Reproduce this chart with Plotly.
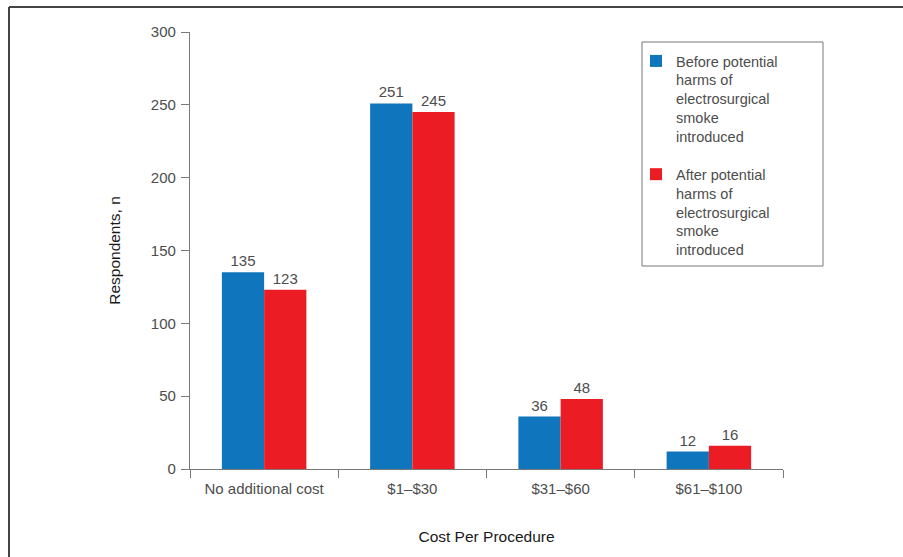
import plotly.graph_objects as go

categories = ["No additional cost", "$1\u2013$30", "$31\u2013$60", "$61\u2013$100"]
before_values = [135, 251, 36, 12]
after_values = [123, 245, 48, 16]
before_name = "Before potential<br>harms of<br>electrosurgical<br>smoke<br>introduced"
after_name = "After potential<br>harms of<br>electrosurgical<br>smoke<br>introduced"

W, H = 903, 557
ML, MR, MT, MB = 190, 120, 32, 88
PW, PH = W - ML - MR, H - MT - MB

FONT = "Liberation Sans, Arial, sans-serif"
GRAY_TXT = "#4d4d4d"
AXIS_COL = "#7a7a7a"

fig = go.Figure()
fig.add_trace(go.Bar(
    x=categories, y=before_values, name=before_name, legendgroup="before",
    marker=dict(color="#0F75BC", line=dict(width=0)),
    text=[str(v) for v in before_values], textposition="outside",
    textfont=dict(size=15, color=GRAY_TXT, family=FONT), cliponaxis=False,
))
fig.add_trace(go.Bar(
    x=categories, y=after_values, name=after_name, legendgroup="after",
    marker=dict(color="#EC1C24", line=dict(width=0)),
    text=[str(v) for v in after_values], textposition="outside",
    textfont=dict(size=15, color=GRAY_TXT, family=FONT), cliponaxis=False,
))


def px_x(p):
    return (p - ML) / PW


def px_y(p):
    return 1 - (p - MT) / PH


# outer frame (left and top edges visible) and the legend box
frame = dict(color="#444444", width=2)
shapes = [
    dict(type="line", xref="paper", yref="paper", x0=px_x(9), x1=px_x(W + 5),
         y0=px_y(7), y1=px_y(7), line=frame),
    dict(type="line", xref="paper", yref="paper", x0=px_x(9), x1=px_x(9),
         y0=px_y(7), y1=px_y(H + 5), line=frame),
    dict(type="rect", xref="paper", yref="paper", x0=px_x(642), x1=px_x(823),
         y0=px_y(266), y1=px_y(42), line=dict(color="#777777", width=1)),
]

fig.update_layout(
    width=W, height=H,
    margin=dict(l=ML, r=MR, t=MT, b=MB, autoexpand=False),
    paper_bgcolor="white", plot_bgcolor="white",
    barmode="group", bargap=0.43, bargroupgap=0,
    font=dict(family=FONT, color=GRAY_TXT, size=15),
    shapes=shapes,
    xaxis=dict(
        type="category", tickson="boundaries", ticks="outside", ticklen=8,
        tickcolor=AXIS_COL, showline=True, linecolor=AXIS_COL, linewidth=1.3,
        showgrid=False, zeroline=False, ticklabelstandoff=6,
        tickfont=dict(size=15, color=GRAY_TXT, family=FONT),
        title=dict(text="Cost Per Procedure", standoff=34,
                   font=dict(size=15.5, color="#1a1a1a", family=FONT)),
    ),
    yaxis=dict(
        range=[0, 300], tickvals=[0, 50, 100, 150, 200, 250, 300],
        ticks="outside", ticklen=8, tickcolor=AXIS_COL,
        showline=True, linecolor=AXIS_COL, linewidth=1.3,
        showgrid=False, zeroline=False, ticklabelstandoff=2,
        tickfont=dict(size=15, color=GRAY_TXT, family=FONT),
        title=dict(text="Respondents, n", standoff=26,
                   font=dict(size=15.5, color="#1a1a1a", family=FONT)),
    ),
    legend=dict(
        x=px_x(636), y=px_y(45), xanchor="left", yanchor="top",
        borderwidth=0, bgcolor="rgba(0,0,0,0)", valign="top",
        font=dict(size=14.5, color=GRAY_TXT, family=FONT),
        tracegroupgap=16, itemwidth=30,
    ),
)

fig.write_html("out.html")
